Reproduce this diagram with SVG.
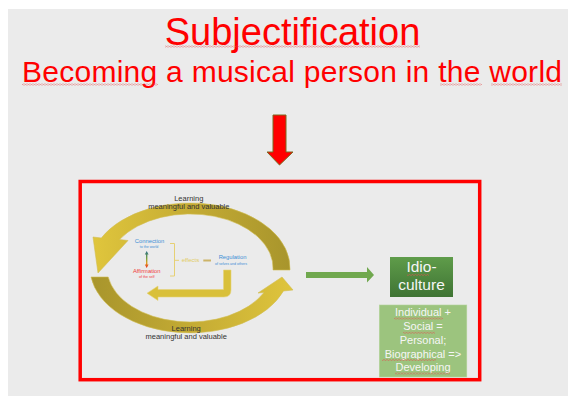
<svg xmlns="http://www.w3.org/2000/svg" width="568" height="396" viewBox="0 0 568 396">
<defs>
<style>
.t{font-family:"Liberation Sans",Arial,sans-serif;}
.title{fill:#ff0000;}
.lab{fill:#333333;font-size:7.5px;}
.blue{fill:#3d8fd6;}
.red{fill:#f03a3a;}
.wht{fill:#f6f6f6;}
.squig{fill:url(#wave);}
</style>
<pattern id="wave" x="0" y="0" width="3" height="2" patternUnits="userSpaceOnUse">
<path d="M0,1.5 L1.5,0.5 L3,1.5" fill="none" stroke="#e05050" stroke-width="0.6"/>
</pattern>
<linearGradient id="gTop" gradientUnits="userSpaceOnUse" x1="290" y1="0" x2="95" y2="0">
<stop offset="0" stop-color="#a8952c"/>
<stop offset="0.5" stop-color="#c4ab34"/>
<stop offset="1" stop-color="#dfc53c"/>
</linearGradient>
<linearGradient id="gBot" gradientUnits="userSpaceOnUse" x1="91" y1="0" x2="293" y2="0">
<stop offset="0" stop-color="#a8952c"/>
<stop offset="0.5" stop-color="#c4ab34"/>
<stop offset="1" stop-color="#dfc53c"/>
</linearGradient>
<linearGradient id="gVert" x1="0" y1="0" x2="0" y2="1">
<stop offset="0" stop-color="#2b6f8a"/>
<stop offset="0.45" stop-color="#7aa23a"/>
<stop offset="0.7" stop-color="#e0a020"/>
<stop offset="1" stop-color="#e82020"/>
</linearGradient>
<linearGradient id="gIdio" x1="0" y1="0" x2="0" y2="1">
<stop offset="0" stop-color="#5f9c4a"/>
<stop offset="1" stop-color="#3f7434"/>
</linearGradient>
</defs>

<rect x="0" y="0" width="568" height="396" fill="#ffffff"/>
<rect x="8" y="9" width="560" height="387" fill="#ebebeb"/>

<g id="title">
<text class="t title" x="292.5" y="45" font-size="38" text-anchor="middle">Subjectification</text>
<rect class="squig" x="165" y="45.5" width="255" height="2"/>
<text class="t title" x="22" y="82" font-size="30" textLength="540" lengthAdjust="spacing">Becoming a musical person in the world</text>
<rect class="squig" x="22" y="83.5" width="136" height="2"/>
<rect class="squig" x="440" y="83.5" width="42" height="2"/>
<rect class="squig" x="491" y="83.5" width="71" height="2"/>
</g>

<g id="down-arrow">
<path d="M273,115 L286,115 L286,152 L293,152 L279.5,165 L267,152 L273,152 Z" fill="#ff0000" stroke="#7a6a20" stroke-width="1"/>
</g>

<g id="frame">
<rect x="80.2" y="181.5" width="399.5" height="198.2" fill="none" stroke="#ff0000" stroke-width="3.5"/>
</g>

<g id="cycle">
<path d="M290,270 A100 65 0 0 0 101.3,238 L93,237 L98,273 L128,240.5 L119.5,239.5 A83 54 0 0 1 273,270 Z" fill="url(#gTop)" stroke="#d2bd52" stroke-width="0.6"/>
<path d="M91,277 A100 65 0 0 0 283.5,291 L293,290 L282,277 L258,293 L264,292.5 A83 54 0 0 1 108.2,277 Z" fill="url(#gBot)" stroke="#d2bd52" stroke-width="0.6"/>
</g>

<g id="label-top">
<text class="t lab" x="188.8" y="201" text-anchor="middle">Learning</text>
<text class="t lab" x="188.8" y="209.3" text-anchor="middle">meaningful and valuable</text>
</g>
<g id="label-bottom">
<text class="t lab" x="186.2" y="330.5" text-anchor="middle">Learning</text>
<text class="t lab" x="186.2" y="338.8" text-anchor="middle">meaningful and valuable</text>
</g>

<g id="connection">
<text class="t blue" x="149.5" y="242.7" font-size="5.8" text-anchor="middle">Connection</text>
<text class="t blue" x="149" y="248" font-size="3.6" text-anchor="middle">to the world</text>
</g>
<g id="affirmation">
<text class="t red" x="146.7" y="272.7" font-size="5.8" text-anchor="middle">Affirmation</text>
<text class="t red" x="146.7" y="278" font-size="3.6" text-anchor="middle">of the self</text>
</g>
<g id="regulation">
<text class="t blue" x="232.5" y="259.3" font-size="5.8" text-anchor="middle">Regulation</text>
<text class="t blue" x="231" y="265.3" font-size="3.6" text-anchor="middle">of selves and others</text>
</g>
<g id="effects">
<path d="M170,243.5 L174.5,243.5 L174.5,276 L170,276 M174.5,260.3 L179,260.3" fill="none" stroke="#e6d074" stroke-width="1"/>
<text class="t" x="181.7" y="262" font-size="6" fill="#e2cb64">effects</text>
</g>

<g id="connectors">
<path d="M146.7,251 L148.6,254.6 L147.4,254.6 L147.4,264.4 L148.6,264.4 L146.7,268 L144.8,264.4 L146,264.4 L146,254.6 L144.8,254.6 Z" fill="url(#gVert)"/>
<line x1="203.3" y1="260.5" x2="211" y2="260.5" stroke="#cdb468" stroke-width="2"/>
<path d="M223.5,270 L231,270 L231,290 Q231,297 224,297 L158,297 L158,300.5 L147,293.2 L158,286 L158,289.5 L223.5,289.5 Z" fill="#d9c03a" stroke="#e6d47a" stroke-width="0.6"/>
<path d="M306,272 L367,272 L367,267 L374,275 L367,282.5 L367,278 L306,278 Z" fill="#70a84e"/>
</g>

<g id="idioculture">
<rect x="390" y="257" width="63" height="40" fill="url(#gIdio)"/>
<text class="t wht" x="421.5" y="272.3" font-size="15.5" text-anchor="middle">Idio-</text>
<rect class="squig" x="407" y="274" width="22" height="2"/>
<text class="t wht" x="421.5" y="290" font-size="15.5" text-anchor="middle">culture</text>
</g>

<g id="description">
<rect x="379.3" y="305" width="87.5" height="72" fill="#9cc47e" stroke="#b3d49a" stroke-width="0.6"/>
<g class="t wht" font-size="11" text-anchor="middle">
<text x="423" y="316">Individual +</text>
<text x="423" y="330.3">Social =</text>
<text x="423" y="344">Personal;</text>
<text x="423" y="357.5">Biographical =&gt;</text>
<text x="423" y="371">Developing</text>
</g>
<rect class="squig" x="394" y="317.5" width="49" height="2"/>
<rect class="squig" x="403" y="331.8" width="32" height="2"/>
<rect class="squig" x="382" y="359" width="54" height="2"/>
<rect class="squig" x="395" y="372.5" width="55" height="2"/>
</g>
</svg>
